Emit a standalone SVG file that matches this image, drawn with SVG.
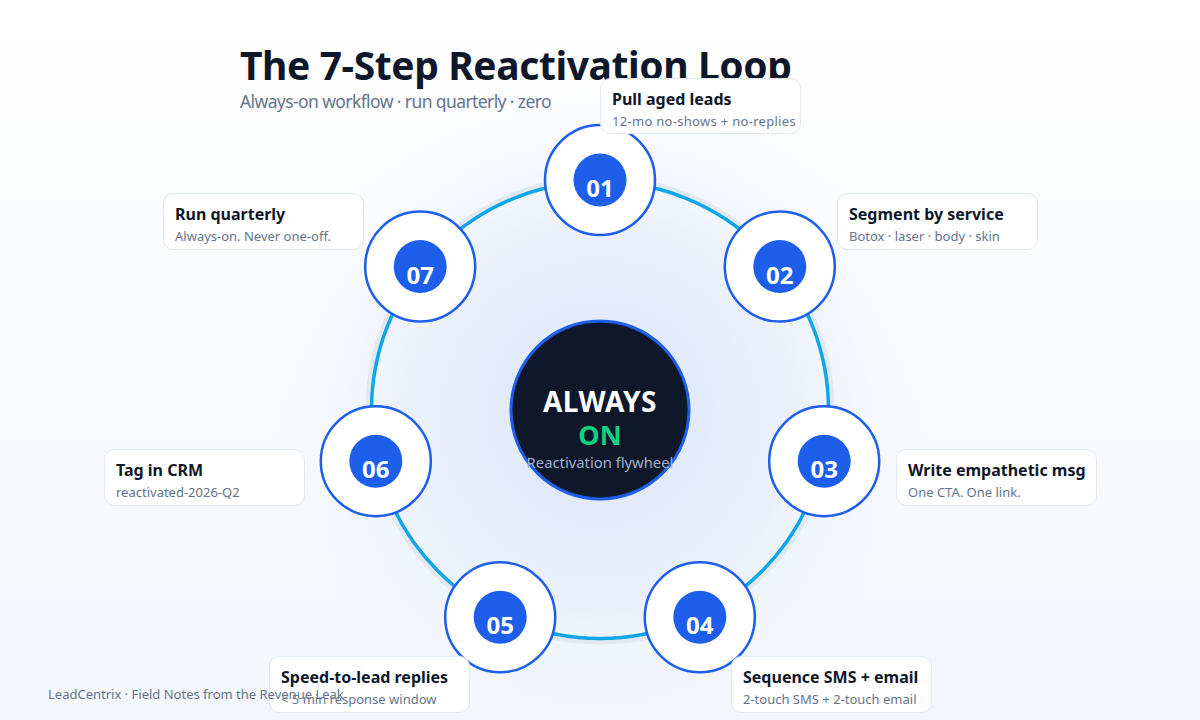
<svg xmlns="http://www.w3.org/2000/svg" width="1200" height="720" viewBox="0 0 1200 720">
<defs>
<linearGradient id="bg" x1="0" y1="0" x2="0" y2="1">
<stop offset="0" stop-color="#ffffff"/>
<stop offset="1" stop-color="#f3f6fb"/>
</linearGradient>
<radialGradient id="glow" cx="600" cy="410" r="330" gradientUnits="userSpaceOnUse">
<stop offset="0" stop-color="#d9e4fa" stop-opacity="1"/>
<stop offset="0.6" stop-color="#e6edfb" stop-opacity="0.7"/>
<stop offset="1" stop-color="#f3f6fb" stop-opacity="0"/>
</radialGradient>
<style>
.title{font-family:"Noto Sans","Open Sans",sans-serif;font-weight:700;font-size:39px;letter-spacing:-0.4px;fill:#0f172a}
.sub{font-family:"Noto Sans","Open Sans",sans-serif;font-size:17.5px;letter-spacing:-0.6px;fill:#64748b}
.card rect{fill:#ffffff;stroke:#e2e8f0;stroke-width:1}
.ct{font-family:"Noto Sans","Open Sans",sans-serif;font-weight:700;font-size:16px;fill:#0f172a}
.cs{font-family:"Noto Sans","Open Sans",sans-serif;font-size:13px;fill:#64748b}
.outer{fill:#ffffff;stroke:#1d5fea;stroke-width:2.5}
.inner{fill:#1d5fea}
.num{font-family:"Noto Sans","Open Sans",sans-serif;font-weight:700;font-size:24px;fill:#ffffff;text-anchor:middle}
.foot{font-family:"Noto Sans","Open Sans",sans-serif;font-size:13px;fill:#64748b}
</style>
</defs>
<rect width="1200" height="720" fill="url(#bg)"/>
<circle cx="600" cy="410" r="330" fill="url(#glow)"/>

<text class="title" x="240" y="80">The 7-Step Reactivation Loop</text>
<text class="sub" x="240" y="108">Always-on workflow · run quarterly · zero</text>

<g id="connectors">
<circle cx="600" cy="410" r="231.5" fill="none" stroke="#e2e8f0" stroke-width="6"/>
<circle cx="600" cy="410" r="228.5" fill="none" stroke="#0ea5e9" stroke-width="3.5"/>
</g>

<g id="center">
<circle cx="600" cy="410" r="89" fill="#0f172a" stroke="#1d5fea" stroke-width="3"/>
<text x="600" y="412" text-anchor="middle" font-family="Noto Sans, Open Sans, sans-serif" font-weight="700" font-size="28" letter-spacing="0.5" fill="#ffffff">ALWAYS</text>
<text x="600" y="445" text-anchor="middle" font-family="Noto Sans, Open Sans, sans-serif" font-weight="700" font-size="27" fill="#10d080">ON</text>
<text x="600" y="468" text-anchor="middle" font-family="Noto Sans, Open Sans, sans-serif" font-size="14.8" fill="#a3b1c9">Reactivation flywheel</text>
</g>

<g id="node1">
<circle class="outer" cx="600" cy="180" r="55"/>
<circle class="inner" cx="600" cy="180" r="26.5"/>
<text class="num" x="600" y="197">01</text>
</g>
<g id="node2">
<circle class="outer" cx="779.8" cy="266.6" r="55"/>
<circle class="inner" cx="779.8" cy="266.6" r="26.5"/>
<text class="num" x="779.8" y="283.6">02</text>
</g>
<g id="node3">
<circle class="outer" cx="824.2" cy="461.2" r="55"/>
<circle class="inner" cx="824.2" cy="461.2" r="26.5"/>
<text class="num" x="824.2" y="478.2">03</text>
</g>
<g id="node4">
<circle class="outer" cx="699.8" cy="617.2" r="55"/>
<circle class="inner" cx="699.8" cy="617.2" r="26.5"/>
<text class="num" x="699.8" y="634.2">04</text>
</g>
<g id="node5">
<circle class="outer" cx="500.2" cy="617.2" r="55"/>
<circle class="inner" cx="500.2" cy="617.2" r="26.5"/>
<text class="num" x="500.2" y="634.2">05</text>
</g>
<g id="node6">
<circle class="outer" cx="375.8" cy="461.2" r="55"/>
<circle class="inner" cx="375.8" cy="461.2" r="26.5"/>
<text class="num" x="375.8" y="478.2">06</text>
</g>
<g id="node7">
<circle class="outer" cx="420.2" cy="266.6" r="55"/>
<circle class="inner" cx="420.2" cy="266.6" r="26.5"/>
<text class="num" x="420.2" y="283.6">07</text>
</g>

<g id="card1" class="card">
<rect x="600.5" y="78.5" width="200" height="55" rx="10"/>
<text class="ct" x="612" y="105">Pull aged leads</text>
<text class="cs" x="612" y="126" letter-spacing="0.3">12-mo no-shows + no-replies</text>
</g>
<g id="card2" class="card">
<rect x="837.5" y="193.5" width="200" height="56" rx="10"/>
<text class="ct" x="849" y="220">Segment by service</text>
<text class="cs" x="849" y="241">Botox · laser · body · skin</text>
</g>
<g id="card3" class="card">
<rect x="896.5" y="449.5" width="200" height="56" rx="10"/>
<text class="ct" x="908" y="476">Write empathetic msg</text>
<text class="cs" x="908" y="497">One CTA. One link.</text>
</g>
<g id="card4" class="card">
<rect x="731.5" y="656.5" width="200" height="56" rx="10"/>
<text class="ct" x="743" y="683">Sequence SMS + email</text>
<text class="cs" x="743" y="704">2-touch SMS + 2-touch email</text>
</g>
<g id="card5" class="card">
<rect x="269.5" y="656.5" width="200" height="56" rx="10"/>
<text class="ct" x="281" y="683">Speed-to-lead replies</text>
<text class="cs" x="281" y="704">&lt; 5 min response window</text>
</g>
<g id="card6" class="card">
<rect x="104.5" y="449.5" width="200" height="56" rx="10"/>
<text class="ct" x="116" y="476">Tag in CRM</text>
<text class="cs" x="116" y="497">reactivated-2026-Q2</text>
</g>
<g id="card7" class="card">
<rect x="163.5" y="193.5" width="200" height="56" rx="10"/>
<text class="ct" x="175" y="220">Run quarterly</text>
<text class="cs" x="175" y="241">Always-on. Never one-off.</text>
</g>

<text class="foot" x="48" y="699">LeadCentrix · Field Notes from the Revenue Leak</text>
</svg>
